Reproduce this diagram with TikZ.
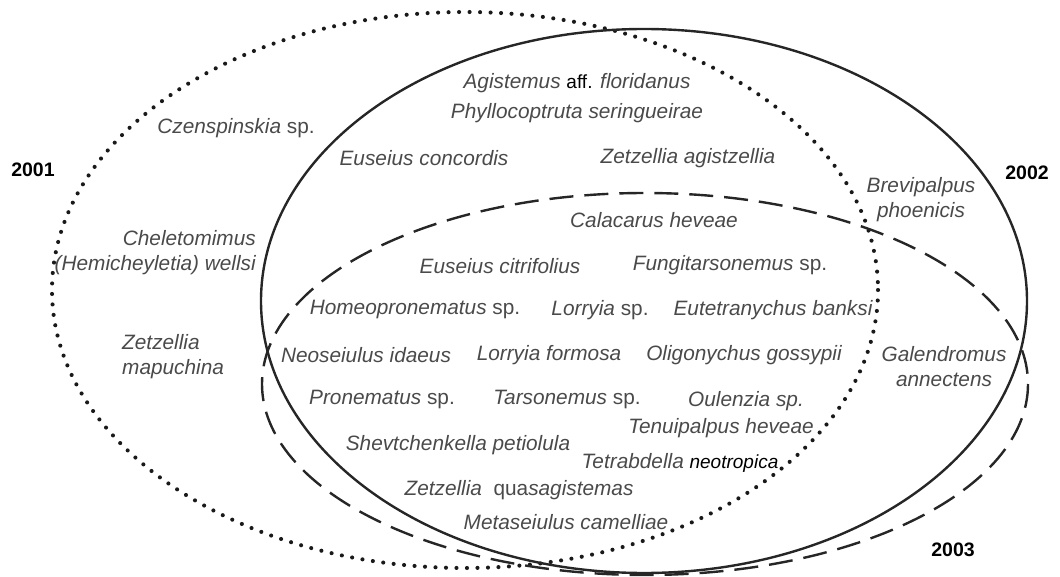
\documentclass[tikz,border=0pt]{standalone}
\usepackage{fontspec}
\setmainfont{Liberation Sans}
\definecolor{txt}{HTML}{4A4A4A}
\begin{document}
\begin{tikzpicture}[x=1pt,y=-1pt,
  sp/.style={inner sep=0pt,text=txt,font=\fontsize{20.8}{25}\selectfont\itshape},
  yr/.style={inner sep=0pt,text=black,font=\fontsize{19.5}{23}\selectfont\bfseries},
  ring/.style={line width=2.4pt,draw=black!85}]
\useasboundingbox (0,0) rectangle (1060,577);
% ellipses
\draw[ring,draw=black!90,line width=4.1pt,line cap=round,dash pattern=on 0pt off 10.5pt] (465,290) ellipse [x radius=413,y radius=278];
\draw[ring] (644,301) ellipse [x radius=383,y radius=272];
\draw[ring,dash pattern=on 24pt off 11pt] (645,384) ellipse [x radius=383,y radius=191];
% year labels
\node[yr] (y1) at (33,170) {2001};
\node[yr] (y2) at (1027,173) {2002};
\node[yr] (y3) at (953,550) {2003};
% species
\node[sp] (s1) at (577,83) {Agistemus {\upshape\color{black}\fontsize{19}{22}\selectfont aff.} floridanus};
\node[sp] (s2) at (577,113) {Phyllocoptruta seringueirae};
\node[sp] (s3) at (236,128) {Czenspinskia {\upshape sp.}};
\node[sp] (s4) at (424,158) {Euseius concordis};
\node[sp] (s5) at (688,158) {Zetzellia agistzellia};
\node[sp,align=center] (s6) at (921,200) {Brevipalpus\\phoenicis};
\node[sp] (s7) at (654,220) {Calacarus heveae};
\node[sp,align=right,anchor=east] (s8) at (256,253) {Cheletomimus\\(Hemicheyletia) wellsi};
\node[sp] (s9) at (500,266) {Euseius citrifolius};
\node[sp] (s10) at (730,265) {Fungitarsonemus {\upshape sp.}};
\node[sp] (s11) at (415,310) {Homeopronematus {\upshape sp.}};
\node[sp] (s12) at (600,310) {Lorryia {\upshape sp.}};
\node[sp] (s13) at (773,310) {Eutetranychus banksi};
\node[sp,align=left,anchor=west] (s14) at (122,357) {Zetzellia\\mapuchina};
\node[sp] (s15) at (366,355) {Neoseiulus idaeus};
\node[sp] (s16) at (549,355) {Lorryia formosa};
\node[sp] (s17) at (744,355) {Oligonychus gossypii};
\node[sp,align=center] (s18) at (944,367) {Galendromus\\annectens};
\node[sp] (s19) at (382,400) {Pronematus {\upshape sp.}};
\node[sp] (s20) at (567,400) {Tarsonemus {\upshape sp.}};
\node[sp] (s21) at (746,401) {Oulenzia sp.};
\node[sp] (s22) at (721,428) {Tenuipalpus heveae};
\node[sp] (s23) at (458,445) {Shevtchenkella petiolula};
\node[sp] (s24) at (680,463) {Tetrabdella {\color{black}\fontsize{19}{22}\selectfont neotropica}};
\node[sp] (s25) at (519,490) {Zetzellia\ \ {\upshape qua}sagistemas};
\node[sp] (s26) at (566,522) {Metaseiulus camelliae};
\end{tikzpicture}
\end{document}
